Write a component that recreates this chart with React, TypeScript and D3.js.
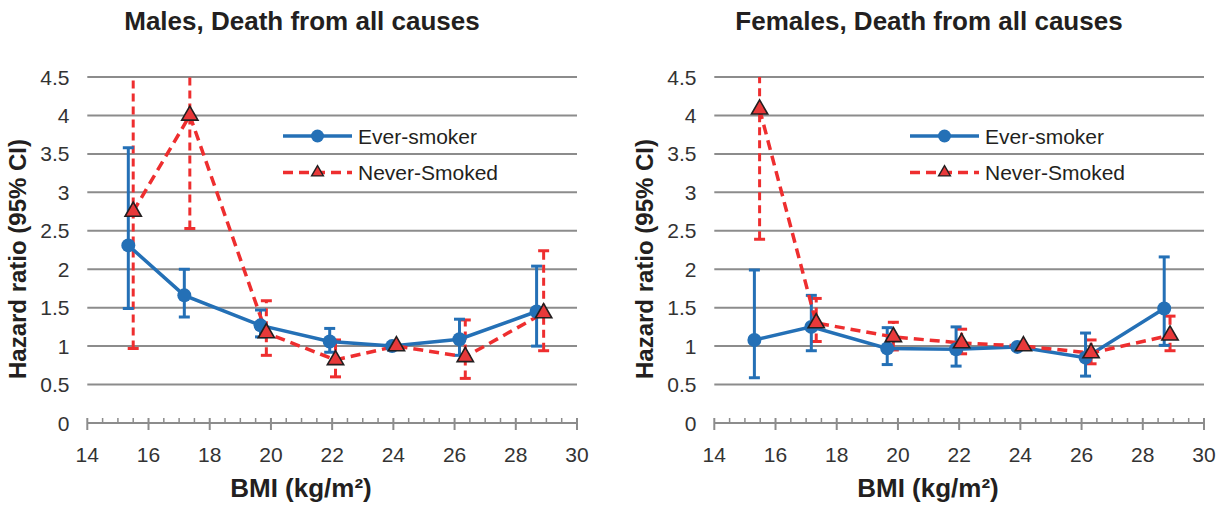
import React, { useEffect, useRef } from "react";
import * as d3 from "d3";

// axis ticks
const bmiTicks = [14, 16, 18, 20, 22, 24, 26, 28, 30];
const hrTicks = [0, 0.5, 1, 1.5, 2, 2.5, 3, 3.5, 4, 4.5];
const seriesNames = ["Ever-smoker", "Never-Smoked"];
const panelTitles = ["Males, Death from all causes", "Females, Death from all causes"];

// Males - ever smokers
const maleEverBmi = [15.34, 17.17, 19.66, 21.92, 23.96, 26.16, 28.68];
const maleEverHr = [2.31, 1.66, 1.27, 1.06, 1.0, 1.09, 1.45];
const maleEverLo = [1.49, 1.38, 1.12, 0.92, 1.0, 0.88, 1.0];
const maleEverHi = [3.58, 2.0, 1.47, 1.23, 1.0, 1.35, 2.04];

// Males - never smoked (first two upper limits run off the top)
const maleNeverBmi = [15.5, 17.35, 19.85, 22.11, 24.1, 26.35, 28.91];
const maleNeverHr = [2.75, 4.0, 1.17, 0.82, 1.0, 0.86, 1.43];
const maleNeverLo = [0.97, 2.53, 0.88, 0.6, 1.0, 0.58, 0.94];
const maleNeverHi = [6.0, 6.0, 1.59, 1.08, 1.0, 1.34, 2.24];

// Females - ever smokers
const femaleEverBmi = [15.31, 17.17, 19.65, 21.9, 23.9, 26.13, 28.7];
const femaleEverHr = [1.08, 1.25, 0.97, 0.96, 0.99, 0.85, 1.49];
const femaleEverLo = [0.59, 0.94, 0.76, 0.74, 0.99, 0.61, 1.01];
const femaleEverHi = [1.99, 1.66, 1.24, 1.25, 0.99, 1.17, 2.16];

// Females - never smoked
const femaleNeverBmi = [15.48, 17.33, 19.85, 22.08, 24.1, 26.31, 28.89];
const femaleNeverHr = [4.08, 1.3, 1.12, 1.04, 1.0, 0.91, 1.14];
const femaleNeverLo = [2.39, 1.06, 0.95, 0.9, 1.0, 0.77, 0.94];
const femaleNeverHi = [6.0, 1.62, 1.31, 1.22, 1.0, 1.08, 1.39];

const BLUE = "#2470b6";
const RED = "#ee2e2f";
const TRI = "#e8393a";
const GRID = "#8c8c8c";
const FONT = "'Liberation Sans', Arial, sans-serif";

const zip = (bmi, hr, lo, hi) => bmi.map((b, i) => ({ bmi: b, hr: hr[i], lo: lo[i], hi: hi[i] }));

const drawPanel = (svg, panel, idx) => {
  const ox = panel.left;
  const x = d3.scaleLinear().domain([14, 30]).range([ox + 87.3, ox + 577]);
  const y = d3.scaleLinear().domain([0, 4.5]).range([423, 77]);
  const g = svg.append("g");

  const clipId = "clip" + idx;
  g.append("clipPath")
    .attr("id", clipId)
    .append("rect")
    .attr("x", x(14) - 20)
    .attr("y", y(4.5))
    .attr("width", x(30) - x(14) + 40)
    .attr("height", y(0) - y(4.5) + 20);

  // title
  g.append("text")
    .attr("x", ox + 302)
    .attr("y", 30)
    .attr("text-anchor", "middle")
    .style("font", `bold 26px ${FONT}`)
    .attr("fill", "#231f20")
    .text(panel.title);

  // gridlines
  g.selectAll(".grid")
    .data(hrTicks.filter((t) => t > 0))
    .enter()
    .append("line")
    .attr("x1", x(14))
    .attr("x2", x(30))
    .attr("y1", (d) => y(d))
    .attr("y2", (d) => y(d))
    .attr("stroke", GRID)
    .attr("stroke-width", 2);

  // y tick labels
  g.selectAll(".ylab")
    .data(hrTicks)
    .enter()
    .append("text")
    .attr("x", ox + 69.5)
    .attr("y", (d) => y(d))
    .attr("dy", "0.36em")
    .attr("text-anchor", "end")
    .style("font", `21px ${FONT}`)
    .attr("fill", "#333")
    .text((d) => d);

  // y title
  g.append("text")
    .attr("transform", `translate(${ox + 17},259) rotate(-90)`)
    .attr("text-anchor", "middle")
    .attr("dy", "0.36em")
    .style("font", `bold 24px ${FONT}`)
    .attr("fill", "#231f20")
    .text("Hazard ratio (95% CI)");

  // x axis
  g.append("line")
    .attr("x1", x(14))
    .attr("x2", x(30))
    .attr("y1", y(0))
    .attr("y2", y(0))
    .attr("stroke", GRID)
    .attr("stroke-width", 2);
  g.selectAll(".minor")
    .data(d3.range(14, 30.01, 0.5).filter((v) => v % 2 !== 0))
    .enter()
    .append("line")
    .attr("x1", (d) => x(d))
    .attr("x2", (d) => x(d))
    .attr("y1", y(0) - 5)
    .attr("y2", y(0))
    .attr("stroke", GRID)
    .attr("stroke-width", 1.5);
  g.selectAll(".major")
    .data(bmiTicks)
    .enter()
    .append("line")
    .attr("x1", (d) => x(d))
    .attr("x2", (d) => x(d))
    .attr("y1", y(0) - 5)
    .attr("y2", y(0) + 7)
    .attr("stroke", GRID)
    .attr("stroke-width", 2);
  g.selectAll(".xlab")
    .data(bmiTicks)
    .enter()
    .append("text")
    .attr("x", (d) => x(d))
    .attr("y", 462)
    .attr("text-anchor", "middle")
    .style("font", `21px ${FONT}`)
    .attr("fill", "#333")
    .text((d) => d);
  g.append("text")
    .attr("x", ox + 301)
    .attr("y", 497)
    .attr("text-anchor", "middle")
    .style("font", `bold 26px ${FONT}`)
    .attr("fill", "#231f20")
    .text("BMI (kg/m²)");

  const [ever, never] = panel.series;
  const plot = g.append("g").attr("clip-path", `url(#${clipId})`);

  const errorBars = (data, color, dash) => {
    const eb = plot.append("g");
    data
      .filter((d) => d.hi !== d.lo)
      .forEach((d) => {
        eb.append("line")
          .attr("x1", x(d.bmi))
          .attr("x2", x(d.bmi))
          .attr("y1", y(d.lo))
          .attr("y2", y(d.hi))
          .attr("stroke", color)
          .attr("stroke-width", 3)
          .attr("stroke-dasharray", dash);
        [d.lo, d.hi].forEach((v) => {
          eb.append("line")
            .attr("x1", x(d.bmi) - 5.5)
            .attr("x2", x(d.bmi) + 5.5)
            .attr("y1", y(v))
            .attr("y2", y(v))
            .attr("stroke", color)
            .attr("stroke-width", 3);
        });
      });
  };

  const line = d3
    .line()
    .x((d) => x(d.bmi))
    .y((d) => y(d.hr));

  errorBars(never, RED, "8,5");
  errorBars(ever, BLUE, null);

  plot.append("path")
    .datum(ever)
    .attr("d", line)
    .attr("fill", "none")
    .attr("stroke", BLUE)
    .attr("stroke-width", 3.5);
  plot.append("path")
    .datum(never)
    .attr("d", line)
    .attr("fill", "none")
    .attr("stroke", RED)
    .attr("stroke-width", 3.5)
    .attr("stroke-dasharray", "10,6");

  plot.selectAll(".dot")
    .data(ever)
    .enter()
    .append("circle")
    .attr("cx", (d) => x(d.bmi))
    .attr("cy", (d) => y(d.hr))
    .attr("r", 7)
    .attr("fill", BLUE);

  const tri = d3.symbol().type(d3.symbolTriangle).size(115);
  plot.selectAll(".tri")
    .data(never)
    .enter()
    .append("path")
    .attr("d", tri)
    .attr("transform", (d) => `translate(${x(d.bmi)},${y(d.hr)})`)
    .attr("fill", TRI)
    .attr("stroke", "#231f20")
    .attr("stroke-width", 1.6);

  // legend
  const lg = g.append("g");
  const legY = [136, 172.5];
  seriesNames.forEach((name, i) => {
    lg.append("line")
      .attr("x1", ox + 283)
      .attr("x2", ox + 352)
      .attr("y1", legY[i])
      .attr("y2", legY[i])
      .attr("stroke", i === 0 ? BLUE : RED)
      .attr("stroke-width", 3.5)
      .attr("stroke-dasharray", i === 0 ? null : "10,6");
    if (i === 0) {
      lg.append("circle")
        .attr("cx", ox + 317.5)
        .attr("cy", legY[i])
        .attr("r", 6.5)
        .attr("fill", BLUE);
    } else {
      lg.append("path")
        .attr("d", d3.symbol().type(d3.symbolTriangle).size(60))
        .attr("transform", `translate(${ox + 317.5},${legY[i]})`)
        .attr("fill", TRI)
        .attr("stroke", "#231f20")
        .attr("stroke-width", 1.4);
    }
    lg.append("text")
      .attr("x", ox + 358)
      .attr("y", legY[i])
      .attr("dy", "0.36em")
      .style("font", `21px ${FONT}`)
      .attr("fill", "#231f20")
      .text(name);
  });
};

export default function App() {
  const svgRef = useRef(null);

  useEffect(() => {
    const svg = d3.select(svgRef.current);
    svg.selectAll("*").remove();
    const panels = [
      {
        title: panelTitles[0],
        left: 0,
        series: [
          zip(maleEverBmi, maleEverHr, maleEverLo, maleEverHi),
          zip(maleNeverBmi, maleNeverHr, maleNeverLo, maleNeverHi),
        ],
      },
      {
        title: panelTitles[1],
        left: 627,
        series: [
          zip(femaleEverBmi, femaleEverHr, femaleEverLo, femaleEverHi),
          zip(femaleNeverBmi, femaleNeverHr, femaleNeverLo, femaleNeverHi),
        ],
      },
    ];
    panels.forEach((p, i) => drawPanel(svg, p, i));
  }, []);

  return (
    <svg
      ref={svgRef}
      width={1217}
      height={505}
      style={{ position: "absolute", left: 0, top: 0, background: "#fff" }}
    ></svg>
  );
}
